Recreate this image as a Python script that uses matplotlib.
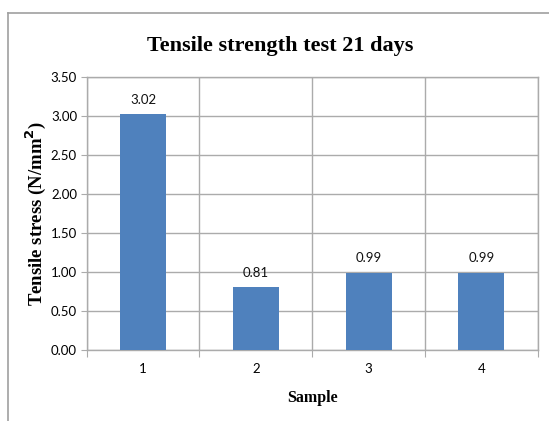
import matplotlib
matplotlib.use("Agg")
import matplotlib.pyplot as plt
from matplotlib.lines import Line2D

# values
samples = ["1", "2", "3", "4"]
stress = [3.02, 0.81, 0.99, 0.99]
labels = ["3.02", "0.81", "0.99", "0.99"]
yticks = [0.0, 0.5, 1.0, 1.5, 2.0, 2.5, 3.0, 3.5]

grid_c = "#ABABAB"
bar_c = "#4F81BD"
serif = ["Liberation Serif", "DejaVu Serif"]
sans = ["Lato", "DejaVu Sans"]

fig = plt.figure(figsize=(5.49, 4.21), dpi=100)
ax = fig.add_axes([0.158, 0.1686, 0.8215, 0.6485])

x = list(range(len(samples)))
ax.bar(x, stress, width=0.41, color=bar_c, zorder=3)

for xi, v, t in zip(x, stress, labels):
    ax.annotate(t, (xi, v), xytext=(0, 6), textcoords="offset points",
                ha="center", va="bottom", fontsize=9.5, family=sans, color="#111111")

ax.set_xlim(-0.5, len(samples) - 0.5)
ax.set_ylim(0, 3.5)
ax.set_yticks(yticks)
ax.set_yticklabels(["%.2f" % t for t in yticks], family=sans, fontsize=9.5)

# category ticks sit between the bars, labels centred on the bars
ax.set_xticks([i - 0.5 for i in range(len(samples) + 1)])
ax.set_xticklabels([])
ax.set_xticks(x, minor=True)
ax.set_xticklabels(samples, minor=True, family=sans, fontsize=9.5)
ax.tick_params(axis="x", which="minor", length=0, pad=9)
ax.tick_params(axis="x", which="major", length=5, color=grid_c, direction="out")
ax.tick_params(axis="y", length=4, color=grid_c, direction="out", pad=3)

ax.grid(True, which="major", color=grid_c, linewidth=1.0, zorder=0)
for s in ax.spines.values():
    s.set_color(grid_c)
    s.set_linewidth(1.0)

fig.text(280.5 / 549, 1 - 51 / 421, "Tensile strength test 21 days", family=serif,
         fontsize=16, fontweight="bold", ha="center", va="baseline")
ax.set_ylabel("Tensile stress (N/mm$^\\mathbf{2}$)", family=serif, fontsize=13.5,
              fontweight="bold", labelpad=2)
ax.set_xlabel("Sample", family=serif, fontsize=11.5, fontweight="bold", labelpad=11)

# outer chart frame (cropped at right and bottom)
fx = 8 / 549
fy = 1 - 13 / 421
fig.add_artist(Line2D([fx, 1], [fy, fy], transform=fig.transFigure, color="#A0A0A0", lw=1.2))
fig.add_artist(Line2D([fx, fx], [0, fy], transform=fig.transFigure, color="#A0A0A0", lw=1.2))

fig.savefig("out.png", dpi=100)
